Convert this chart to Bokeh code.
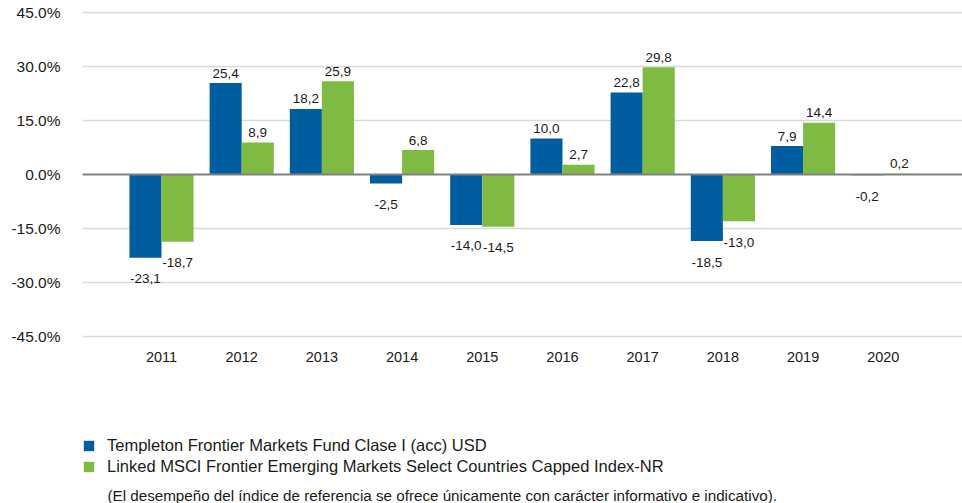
from bokeh.plotting import figure
from bokeh.layouts import column
from bokeh.models import (Range1d, FixedTicker, PrintfTickFormatter, Span, Legend,
                          LegendItem, Label, ColumnDataSource)
from bokeh.embed import file_html
from bokeh.resources import INLINE

years = ["2011", "2012", "2013", "2014", "2015", "2016", "2017", "2018", "2019", "2020"]
fund = [-23.1, 25.4, 18.2, -2.5, -14.0, 10.0, 22.8, -18.5, 7.9, -0.2]
index = [-18.7, 8.9, 25.9, 6.8, -14.5, 2.7, 29.8, -13.0, 14.4, 0.2]
y_ticks = [-45, -30, -15, 0, 15, 30, 45]
fund_name = "Templeton Frontier Markets Fund Clase I (acc) USD"
index_name = "Linked MSCI Frontier Emerging Markets Select Countries Capped Index-NR"
footnote = "(El desempeño del índice de referencia se ofrece únicamente con carácter informativo e indicativo)."

BLUE = "#005DA0"
GREEN = "#7FBA42"
FONT = "Liberation Sans"
TXT = "#1a1a1a"

# ---- main chart ----
p = figure(width=962, height=370, output_backend="svg", toolbar_location=None,
           x_range=Range1d(-0.985, 9.988), y_range=Range1d(-46.1, 46.1),
           min_border_left=82, min_border_right=0, min_border_top=8, min_border_bottom=30)
p.outline_line_color = None
p.xgrid.visible = False
p.ygrid.ticker = FixedTicker(ticks=[t for t in y_ticks if t != 0])
p.ygrid.grid_line_color = "#D9D9D9"
p.ygrid.grid_line_width = 1.5

xs = list(range(len(years)))
src_f = ColumnDataSource(dict(x=[i - 0.2 for i in xs], top=fund,
                              lbl=[f"{v:.1f}".replace(".", ",") for v in fund],
                              off=[-10 if v >= 0 else 21 for v in fund]))
src_i = ColumnDataSource(dict(x=[i + 0.2 for i in xs], top=index,
                              lbl=[f"{v:.1f}".replace(".", ",") for v in index],
                              off=[-10 if v >= 0 else 21 for v in index]))

p.vbar(x="x", top="top", bottom=0, width=0.4, source=src_f, fill_color=BLUE, line_color=None)
p.vbar(x="x", top="top", bottom=0, width=0.4, source=src_i, fill_color=GREEN, line_color=None)

for s in (src_f, src_i):
    p.text(x="x", y="top", text="lbl", source=s, y_offset="off", text_align="center",
           text_baseline="alphabetic", text_font_size="13.5px", text_color=TXT,
           text_font={"value": FONT})

p.add_layout(Span(location=0, dimension="width", line_color="#808080", line_width=2))

xa = p.xaxis[0]
xa.ticker = FixedTicker(ticks=xs)
xa.major_label_overrides = {i: y for i, y in zip(xs, years)}
xa.axis_line_color = None
xa.major_tick_line_color = None
xa.minor_tick_line_color = None
xa.major_label_standoff = 5
xa.major_label_text_font = FONT
xa.major_label_text_font_size = "14.5px"
xa.major_label_text_color = TXT

ya = p.yaxis[0]
ya.ticker = FixedTicker(ticks=y_ticks)
ya.formatter = PrintfTickFormatter(format="%.1f%%")
ya.axis_line_color = None
ya.major_tick_line_color = None
ya.minor_tick_line_color = None
ya.major_label_standoff = 16
ya.major_label_text_font = FONT
ya.major_label_text_font_size = "15.5px"
ya.major_label_text_color = TXT
ya.major_label_text_baseline = "hanging"

# ---- legend + footnote strip (frame aligned with the chart frame: x 82..962 px) ----
q = figure(width=962, height=133, output_backend="svg", toolbar_location=None,
           x_range=Range1d(82, 962), y_range=Range1d(0, 133),
           x_axis_type=None, y_axis_type=None,
           min_border_left=0, min_border_right=0, min_border_top=0, min_border_bottom=0)
q.outline_line_color = None
q.grid.visible = False
# zero-height legend proxies (outside the visible range)
lf = q.vbar(x=[0], top=[0], bottom=0, width=1, fill_color=BLUE, line_color=None)
li = q.vbar(x=[0], top=[0], bottom=0, width=1, fill_color=GREEN, line_color=None)
legend = Legend(items=[LegendItem(label=fund_name, renderers=[lf]),
                       LegendItem(label=index_name, renderers=[li])],
                location=(0, 27), orientation="vertical",
                glyph_width=13, glyph_height=13, label_height=19, spacing=2,
                label_standoff=12, padding=0, margin=0,
                label_text_font=FONT, label_text_font_size="16.5px", label_text_color=TXT,
                border_line_color=None, background_fill_alpha=0)
q.add_layout(legend)
q.add_layout(Label(x=107, y=8, text=footnote, text_font=FONT, text_font_size="15.2px",
                   text_color=TXT, text_baseline="middle", text_align="left"))

open("out.html", "w").write(file_html(column(p, q, spacing=0), INLINE))
